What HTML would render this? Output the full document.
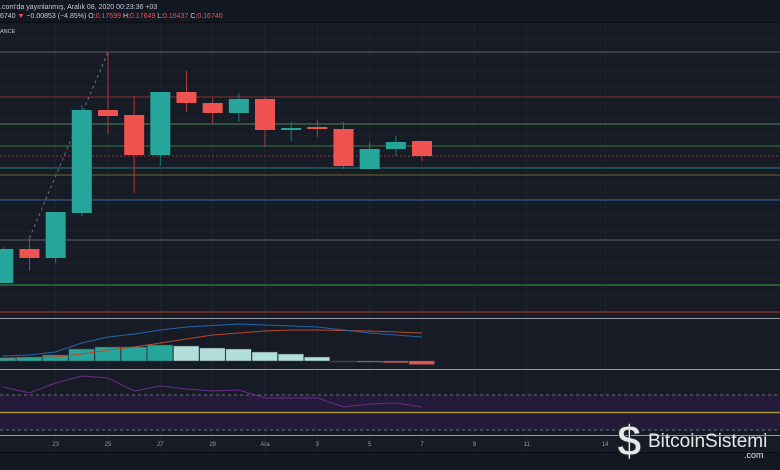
<!DOCTYPE html>
<html><head><meta charset="utf-8"><style>
html,body{margin:0;padding:0;background:#131722;}
svg{display:block;font-family:"Liberation Sans","DejaVu Sans",sans-serif;}
</style></head><body>
<svg id="chart" width="780" height="470" viewBox="0 0 780 470" xmlns="http://www.w3.org/2000/svg">
<rect x="0" y="0" width="780" height="470" fill="#131722"/>
<rect x="0" y="23" width="780" height="429" fill="#171b26"/>
<line x1="0" y1="22.5" x2="780" y2="22.5" stroke="#0b0d12" stroke-width="1"/>
<line x1="0" y1="452.5" x2="780" y2="452.5" stroke="#0b0d12" stroke-width="1"/>
<text x="0" y="9" font-size="7" fill="#c8cbd2">.com'da yayınlanmış, Aralık 08, 2020 00:23:36 +03</text>
<text x="0" y="18" font-size="7" fill="#c8cbd2">6740 <tspan fill="#ef5350">▼</tspan> −0.00853 (−4.85%)  O:<tspan fill="#ef5350">0.17599</tspan> H:<tspan fill="#ef5350">0.17649</tspan> L:<tspan fill="#ef5350">0.16437</tspan> C:<tspan fill="#ef5350">0.16740</tspan></text>
<text x="0" y="33" font-size="5.5" fill="#c8cbd2">ANCE</text>
<g id="grid"></g>
<g id="hlines"></g>
<g id="candles"></g>
<g id="macd"></g>
<g id="rsi"></g>
<g id="xaxis"></g>
<g>
<text x="617" y="456" font-size="44" font-weight="bold" fill="#e8e8ea" stroke="#2a2e38" stroke-width="1">$</text>
<text x="648" y="447" font-size="19" fill="#e8e8ea">BitcoinSistemi</text>
<text x="744" y="458" font-size="9" fill="#e8e8ea">.com</text>
</g>
</svg>
<script>
const NS="http://www.w3.org/2000/svg";
// ---- data ----
const dayLabels=["23","25","27","29","Ara","3","5","7","9","11","14"];
const dayLabelIdx=[2,4,6,8,10,12,14,16,18,20,23];
const opens =[0.1166,0.1302,0.1266,0.1446,0.1858,0.1838,0.1678,0.1930,0.1886,0.1846,0.1902,0.1778,0.1790,0.1782,0.1622,0.1702,0.1734];
const highs =[0.1310,0.1346,0.1450,0.1878,0.2090,0.1914,0.1930,0.2014,0.1906,0.1926,0.1910,0.1810,0.1818,0.1810,0.1730,0.1754,0.1734];
const lows  =[0.1166,0.1214,0.1246,0.1434,0.1762,0.1526,0.1634,0.1850,0.1806,0.1810,0.1710,0.1734,0.1750,0.1622,0.1622,0.1674,0.1654];
const closes=[0.1302,0.1266,0.1450,0.1858,0.1834,0.1678,0.1930,0.1886,0.1846,0.1902,0.1778,0.1786,0.1782,0.1634,0.1702,0.1730,0.1674];
const levels=[0.2090,0.1910,0.1802,0.1714,0.1674,0.1626,0.1598,0.1498,0.1338,0.1158];
const levelColors=["#5d606b","#8c2f2f","#4e8a55","#2f7d3a","#8c3a3a","#1f7a78","#6d6a2a","#2f6aa6","#5d606b","#2b5a3a"];
const macdHist=[3.3,4,6,12,14,14,16,15,13,12,9,7,4,-0.5,-1.2,-1.8,-3.5];
const macdLine=[5,6,9,18,24,27,31,34,35.5,37,36,35,34,31,28,26,24];
const signalLine=[3,3.5,4,7,11,14,18,22,26,28,30,31,31,30.5,30,29,28];
const rsiVals=[79.1,72.3,83.7,91.7,89.4,74.6,80.3,76.9,74.6,75.7,66.6,66.6,66.6,56.3,59.7,60.9,56.3];
// ---- scales ----
const x=i=>3.3+i*26.17;
const y=p=>156-(p-0.1674)*2500;
const my=v=>361-v;
const ry=v=>412.5-(v-50)*0.875;
function el(tag,attrs,parent){const e=document.createElementNS(NS,tag);for(const k in attrs)e.setAttribute(k,attrs[k]);parent.appendChild(e);return e;}
const G=id=>document.getElementById(id);
// grid
const grid=G('grid');
for(let i=0;i<dayLabelIdx.length;i++){const l=el('line',{x1:x(dayLabelIdx[i]),x2:x(dayLabelIdx[i]),y1:23,y2:452,stroke:'#20242f','stroke-width':1},grid);

}
for(let gy=39;gy<300;gy+=16){const l=el('line',{x1:0,x2:780,y1:gy,y2:gy,stroke:'#1d212c','stroke-width':1},grid);

}
// levels
const hl=G('hlines');
levels.forEach((p,i)=>{const a={x1:0,x2:780,y1:y(p),y2:y(p),stroke:levelColors[i],'stroke-width':i==9?2:1};if(i==4)a['stroke-dasharray']='2,2';const l=el('line',a,hl);

});
// trend line
const tl=el('line',{x1:x(1),y1:y(highs[1]),x2:x(4),y2:y(highs[4]),stroke:'#6a6e7a','stroke-width':1,'stroke-dasharray':'3,3'},hl);


// candles
const cg=G('candles');
opens.forEach((o,i)=>{const c=closes[i],up=c>=o,col=up?'#26a69a':'#ef5350';
const w=el('line',{x1:x(i),x2:x(i),y1:y(highs[i]),y2:y(lows[i]),stroke:up?'#1f7d74':'#b23a3a','stroke-width':1},cg);


const top=Math.min(y(o),y(c)),h=Math.max(2,Math.abs(y(o)-y(c)));
const b=el('rect',{x:x(i)-10,y:top,width:20,height:h,fill:col},cg);

});
// MACD pane
const mg=G('macd');
let l1=el('line',{x1:0,x2:780,y1:312,y2:312,stroke:'#b03a32','stroke-width':1},mg);


let l2=el('line',{x1:0,x2:780,y1:318.5,y2:318.5,stroke:'#9a9ca3','stroke-width':1},mg);


let l3=el('line',{x1:0,x2:780,y1:369.5,y2:369.5,stroke:'#9a9ca3','stroke-width':1},mg);


macdHist.forEach((v,i)=>{const prev=i?macdHist[i-1]:0;let col=v>=0?(v>=prev?'#26a69a':'#b2dfdb'):'#ef5350';if(v<0&&v>-1)col='#7a2d2d';
const top=Math.min(my(v),my(0)),h=Math.max(1,Math.abs(my(v)-my(0)));
const r=el('rect',{x:x(i)-13,y:top,width:25.5,height:h,fill:col,stroke:'#3a3f4a','stroke-width':0.5},mg);

});
const pl=(arr,f,col,name,g)=>{const p=el('polyline',{points:arr.map((v,i)=>x(i)+','+f(v)).join(' '),fill:'none',stroke:col,'stroke-width':1},g);

};
pl(signalLine,my,'#b84a2a','macd-signal-line',mg);
pl(macdLine,my,'#2266aa','macd-line',mg);
// RSI pane
const rg=G('rsi');
const band=el('rect',{x:0,y:ry(70),width:780,height:ry(30)-ry(70),fill:'#241a3a'},rg);


[70,30].forEach(v=>{const l=el('line',{x1:0,x2:780,y1:ry(v),y2:ry(v),stroke:'#6a6e7a','stroke-width':1,'stroke-dasharray':'3,3'},rg);

});
const mid=el('line',{x1:0,x2:780,y1:ry(50),y2:ry(50),stroke:'#a8962a','stroke-width':1.5},rg);


const rb=el('line',{x1:0,x2:780,y1:435.5,y2:435.5,stroke:'#9a9ca3','stroke-width':1},rg);


pl(rsiVals,ry,'#6a2a8a','rsi-line',rg);
// x axis labels
const xg=G('xaxis');
dayLabels.forEach((t,i)=>{const e=el('text',{x:x(dayLabelIdx[i]),y:446,'font-size':6,fill:'#9598a1','text-anchor':'middle'},xg);e.textContent=t;

});
</script>
</body></html>
